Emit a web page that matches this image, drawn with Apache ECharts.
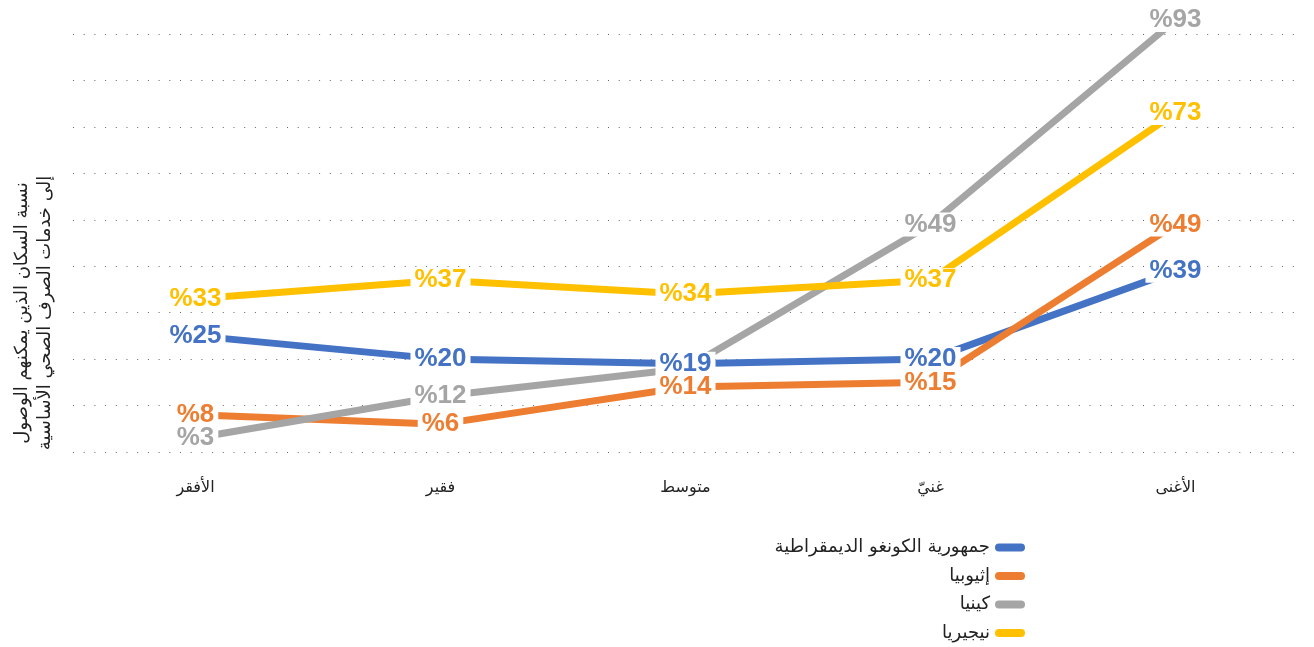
<!DOCTYPE html>
<html>
<head>
<meta charset="utf-8">
<script src="https://cdn.jsdelivr.net/npm/echarts@6/dist/echarts.min.js"></script>
<style>
    html, body { margin: 0; padding: 0; background: #fff; }
    #chart { width: 1314px; height: 647px; }
</style>
</head>
<body>
<div id="chart"></div>
<script>
// wealth quintiles, poorest on the left
const categories = ['الأفقر', 'فقير', 'متوسط', 'غنيّ', 'الأغنى'];

const seriesNames = ['جمهورية الكونغو الديمقراطية', 'إثيوبيا', 'كينيا', 'نيجيريا'];
const drcValues = [25, 20, 19, 20, 39];
const ethiopiaValues = [8, 6, 14, 15, 49];
const kenyaValues = [3, 12, 18, 49, 93];
const nigeriaValues = [33, 37, 34, 37, 73];

// kenya's middle label sits under the DRC one in the original
const hiddenLabels = { 2: [2] };

const colors = ['#4472C4', '#ED7D31', '#A5A5A5', '#FFC000'];
const yTitle = 'نسبة السكان الذين يمكنهم الوصول\nإلى خدمات الصرف الصحي الأساسية';

const arabicFont = "'DejaVu Sans', 'Liberation Sans', sans-serif";
const numberFont = "'Liberation Sans', Arial, sans-serif";

window.addEventListener('DOMContentLoaded', () => {
    const chart = echarts.init(document.getElementById('chart'));
    const allValues = [drcValues, ethiopiaValues, kenyaValues, nigeriaValues];

    const lineSeries = allValues.map((vals, i) => ({
        name: seriesNames[i],
        type: 'line',
        data: vals,
        symbol: 'none',
        clip: false,
        z: 2,
        lineStyle: { width: 7, color: colors[i], cap: 'round', join: 'round' },
        itemStyle: { color: colors[i] },
        emphasis: { disabled: true }
    }));

    const labelSeries = allValues.map((vals, i) => ({
        name: 'labels-' + i,
        type: 'scatter',
        data: vals.map((v, j) => {
            const hide = (hiddenLabels[i] || []).includes(j);
            return hide ? { value: v, label: { show: false } } : v;
        }),
        symbolSize: 1,
        clip: false,
        z: 10,
        silent: true,
        itemStyle: { color: '#fff', opacity: 1 },
        label: {
            show: true,
            position: 'inside',
            formatter: p => '%' + p.value,
            color: colors[i],
            opacity: 1,
            fontFamily: numberFont,
            fontWeight: 'bold',
            fontSize: 26,
            lineHeight: 24,
            textBorderWidth: 0,
            textShadowBlur: 0,
            backgroundColor: '#fff',
            padding: [0, 4]
        },
        emphasis: { disabled: true }
    }));

    chart.setOption({
        animation: false,
        grid: {
            left: 73,
            right: 16,
            top: 34,
            bottom: 195,
            containLabel: false,
            outerBoundsMode: 'none'
        },
        xAxis: {
            type: 'category',
            data: categories,
            boundaryGap: true,
            axisLine: { show: false },
            axisTick: { show: false },
            axisLabel: {
                margin: 28,
                color: '#222',
                fontSize: 16,
                fontFamily: arabicFont
            }
        },
        yAxis: {
            type: 'value',
            min: 0,
            max: 90,
            interval: 10,
            axisLine: { show: false },
            axisTick: { show: false },
            axisLabel: { show: false },
            splitLine: {
                show: true,
                lineStyle: { color: '#666', width: 1, type: [1, 9.7] }
            }
        },
        legend: {
            data: seriesNames,
            orient: 'vertical',
            align: 'right',
            right: 289,
            top: 538,
            height: 109,
            padding: 0,
            itemWidth: 30,
            itemHeight: 8,
            itemGap: 9.5,
            icon: 'path://M4,0 L26,0 A4,4 0 0 1 26,8 L4,8 A4,4 0 0 1 4,0 Z',
            textStyle: { color: '#222', fontSize: 18, lineHeight: 19, fontFamily: arabicFont },
            selectedMode: false
        },
        graphic: [{
            type: 'text',
            x: 34,
            y: 313,
            rotation: Math.PI / 2,
            style: {
                text: yTitle,
                fill: '#222',
                font: '18px ' + arabicFont,
                lineHeight: 23,
                align: 'center',
                verticalAlign: 'middle'
            }
        }],
        series: lineSeries.concat(labelSeries)
    });
});
</script>
</body>
</html>
